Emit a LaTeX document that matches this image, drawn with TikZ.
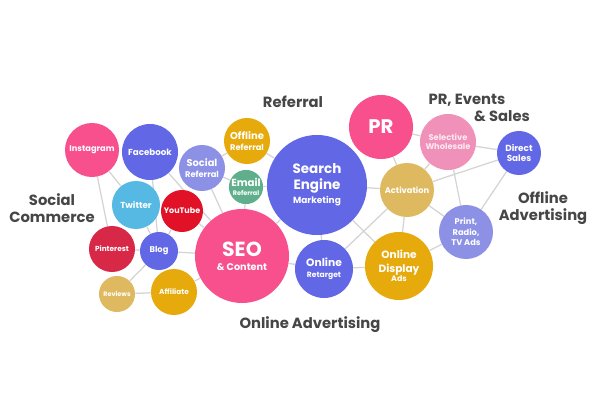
\documentclass[tikz,border=0pt]{standalone}
\usepackage{fontspec}
\setmainfont{Poppins}
\usetikzlibrary{backgrounds}

\definecolor{cpink}{RGB}{247,80,140}
\definecolor{cblue}{RGB}{98,103,230}
\definecolor{clav}{RGB}{140,145,230}
\definecolor{cgold}{RGB}{230,170,12}
\definecolor{ctan}{RGB}{222,185,95}
\definecolor{cgreen}{RGB}{95,175,140}
\definecolor{ccyan}{RGB}{85,185,228}
\definecolor{cred}{RGB}{225,18,40}
\definecolor{ccrim}{RGB}{215,40,72}
\definecolor{cpinklt}{RGB}{240,145,185}
\definecolor{ctext}{RGB}{70,70,70}

\newcommand{\fsz}[2]{\fontsize{#1}{#2}\selectfont}

\begin{document}
\begin{tikzpicture}[
    x=0.025cm, y=-0.025cm,
    bubble/.style={circle, fill=#1, text=white, align=center, inner sep=0pt},
    dia/.style={minimum size=#1*0.05cm},
    fs/.style 2 args={font=\bfseries\fsz{#1}{#2}},
    group/.style={text=ctext, align=center, font=\bfseries\fsz{10.5}{12}},
    link/.style={draw=black!17, line width=0.9pt}
]
\useasboundingbox (0,0) rectangle (600,408);

% Social Commerce Nodes
\node[bubble=cpink, dia=27, fs={5.9}{7}] (insta) at (92,150) {Instagram};
\node[bubble=cblue, dia=28, fs={6.2}{7}] (facebook) at (150,152) {Facebook};
\node[bubble=ccyan, dia=24, fs={6.2}{7}] (twitter) at (136,205) {Twitter};
\node[bubble=cred, dia=21, fs={5.7}{7}] (youtube) at (182,211) {YouTube};
\node[bubble=ccrim, dia=23, fs={5.2}{6}] (pinterest) at (112,249) {Pinterest};
\node[bubble=cblue, dia=19, fs={5.9}{7}] (blog) at (159,251) {Blog};
\node[bubble=ctan, dia=18, fs={4.6}{5}] (reviews) at (117,294) {Reviews};
\node[bubble=cgold, dia=23, fs={5.2}{6}] (affiliate) at (174,292) {Affiliate};

% Referral Nodes
\node[bubble=clav, dia=23, fs={7}{7.3}] (socref) at (202,168) {Social\\\fsz{5.9}{7.3}Referral};
\node[bubble=cgold, dia=23, fs={7.1}{7.5}] (offref) at (247,141) {Offline\\\fsz{5.9}{7.5}Referral};
\node[bubble=cgreen, dia=17, fs={7.3}{6.4}] (emailref) at (246,187) {Email\\\fsz{4.6}{6.4}Referral};

% Online Advertising Nodes
\node[bubble=cpink, dia=47, fs={14.5}{10}] (seo) at (242,256) {SEO\\\fsz{6.9}{10}\& Content};
\node[bubble=cblue, dia=50, fs={9.6}{11.3}] (sem) at (317,185) {Search\\Engine\\[-1.3pt]\fsz{6.4}{11.3}Marketing};
\node[bubble=cblue, dia=29, fs={7.6}{7.8}] (retarget) at (324,269) {Online\\\fsz{5.4}{7.8}Retarget};
\node[bubble=cgold, dia=34, fs={7.5}{9.4}] (display) at (399,266) {Online\\Display\\[-2.8pt]\fsz{5.6}{9.4}Ads};

% PR, Events & Sales Nodes
\node[bubble=cpink, dia=32, fs={14}{14}] (pr) at (381,127) {PR};
\node[bubble=cpinklt, dia=28, text=white!80!cpinklt, fs={5.9}{6.4}] (wholesale) at (448,142) {Selective\\Wholesale};
\node[bubble=cblue, dia=22, fs={6.3}{7.5}] (direct) at (519,153) {Direct\\Sales};
\node[bubble=ctan, dia=27, fs={5.9}{7}] (activation) at (407,190) {Activation};

% Offline Advertising Nodes
\node[bubble=clav, dia=27, fs={5.9}{7.4}] (print) at (466,232) {Print,\\Radio,\\TV Ads};

% Group Labels
\node[group] (lsocial) at (52,208) {Social\\Commerce};
\node[group] (lreferral) at (293,102) {Referral};
\node[group] (lpr) at (467,100) {PR, Events};
\node[group] (lsales) at (502,116) {\& Sales};
\node[group] (loffline) at (543,208) {Offline\\Advertising};
\node[group] (lonline) at (310,325) {Online Advertising};

% Connections
\begin{scope}[on background layer]
\foreach \a/\b in {insta/twitter, insta/pinterest, facebook/blog, facebook/seo,
    twitter/blog, pinterest/blog, blog/reviews, reviews/affiliate, affiliate/seo,
    blog/seo, blog/youtube, youtube/seo, socref/seo, socref/offref, socref/emailref,
    offref/sem, emailref/sem, emailref/seo, sem/seo, sem/activation, sem/retarget,
    seo/retarget, retarget/display, retarget/activation, sem/display,
    activation/display, activation/pr, activation/wholesale, activation/direct,
    activation/print, pr/wholesale, wholesale/direct, wholesale/print,
    direct/print, print/display}
    \draw[link] (\a) -- (\b);
\end{scope}

\end{tikzpicture}
\end{document}
